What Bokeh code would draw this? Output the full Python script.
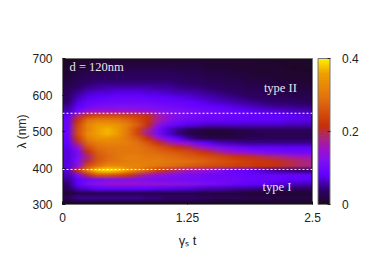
import base64, struct, zlib
import numpy as np
from bokeh.plotting import figure
from bokeh.models import LinearColorMapper, ColorBar, FixedTicker, Label, Span
from bokeh.embed import file_html
from bokeh.resources import INLINE

x_ticks = [0, 1.25, 2.5]
x_tick_labels = {0: "0", 1.25: "1.25", 2.5: "2.5"}
y_ticks = [300, 400, 500, 600, 700]
cb_ticks = [0, 0.2, 0.4]
cb_tick_labels = {0: "0", 0.2: "0.2", 0.4: "0.4"}
type_lines = [550, 396]

# values in hundredths, columns t = 0.05, 0.15 ... 2.45
w693 = [.5,1,1,1,1,1,1,1,1,1,1,1,1,1,1,1,1,1,1,1,.5,.5,.5,.5,.5]
w681 = [.5,1,1,1.5,1.5,1.5,1.5,1.5,1.5,1.5,1.5,1.5,1.5,1.5,1,1,1,1,1,1,1,1,.5,.5,.5]
w668 = [1,1.5,2,2,2.5,2.5,2.5,2.5,2.5,2.5,2.5,2,2,2,1.5,1.5,1.5,1,1,1,1,1,1,.5,.5]
w656 = [1,2,2.5,3,3,3,3,3,3,3,3,3,2.5,2.5,2,2,1.5,1.5,1.5,1,1,1,1,1,1]
w643 = [1.5,2.5,3,3.5,3.5,3.5,3.5,3.5,3.5,3.5,3.5,3.5,3,3,2.5,2.5,2,2,1.5,1.5,1.5,1,1,1,1]
w631 = [2,3,4,4.5,4.5,4.5,4.5,4.5,4.5,4.5,4.5,4,4,3.5,3,3,2.5,2.5,2,2,2,1.5,1.5,1.5,1]
w618 = [2.5,4,5,5.5,6,6,6,6,6,5.5,5.5,5,4.5,4.5,4,3.5,3,3,2.5,2.5,2,2,2,1.5,1.5]
w606 = [3,5,6.5,7,7,7.5,7.5,7.5,7,7,6.5,6,6,5.5,5,4.5,4,3.5,3,3,2.5,2.5,2,2,2]
w593 = [3.5,6,7.5,8,8.5,9,9,9,8.5,8,8,7.5,7,6.5,6,5.5,5,4.5,4,3.5,3.5,3,3,2.5,2.5]
w581 = [4,7,9,9.5,10,10,10,10,10,9.5,9,9,8.5,8,7,6.5,6,5.5,5,4.5,4,4,3.5,3.5,3]
w568 = [5,8,10,11,11.5,12,12,12,11.5,11,10.5,10,9.5,9,8.5,8,7.5,7,6.5,6,5.5,5,5,4.5,4.5]
w556 = [6,10,14,15,15,15,15,14.5,14,13,12,11.5,11,10.5,10,9.5,9,8.5,8,7.5,7,7,6.5,6.5,6]
w543 = [8,18,23,25,25,25,24,23,21,17,14,12,11,10.5,10,10,9.5,9,9,8.5,8.5,8,8,7.5,7.5]
w531 = [9,22,29,31,31,30,28,25,22,17,13,11,10,9.5,9,9,8.5,8.5,8,8,8,8,7.5,7.5,7]
w518 = [9,24,32,35,35,34,31,27,21,14,10,9,7.5,7,6.5,6.5,6.5,6.5,6.5,6.5,6.5,6.5,6,6,6]
w506 = [9,25,32,36,37,35,30,24,18,11,7,5,3.5,2.5,2,2,2.5,3,3,3.5,3.5,3.5,3.5,3.5,3.5]
w493 = [9,25,33,36,37,35,30,24,17,11,7,4.5,2.5,1.5,1,1,1,1.5,2,2,2.5,2.5,2.5,2.5,2.5]
w481 = [8.5,23,31,34,34,33,30,27,22,16,11,8,5.5,4,3,2.5,2.5,2.5,3,3,3,3,3,3,3]
w468 = [8,19,28,31,32,32,31,29,26,22,18,15,13,10,8,6.5,6,5.5,5,5,5,5,5,5,5]
w456 = [7.5,14,25,29,30,30,30,30,28,26,24,22,20,17,14,12,10.5,9.5,9,8.5,8.5,8.5,8,8,8]
w443 = [7,11,21,27,29,30,30,30,29,28,27,26,25,23,21,18.5,16,14.5,13,12,11,10.5,10,10,10]
w431 = [7,11,18,26,28,30,31,31,30,30,29,28,27,26,25,24,23,22,21,20,19,18,17,16,15.5]
w418 = [7,12,20,26,29,30,31,31,31,31,30,29.5,29,28,27,26,25,24,23,22.5,22,21,20,19,18]
w406 = [7,13,25,29,33,33,32,32,31,30,29,28,27,26,25,24.5,24,23,23,22,22,21,20,19,18]
w393 = [7,22,32,38,39,38,35,31,27,23,20,18,16,15,14,12,10,9,8,7,6,5,4.5,4,4]
w381 = [6,11,20,26,26,25,23,19,16,14,13,12,11,11,10,10,9.5,9.5,9,9,9,9,9,9,9]
w368 = [5,8,10,11,12,12,12,12,11.5,11,11,11,10.5,10.5,10,10,10,10,9,9,9,9,8,8,8]
w356 = [4,8,11,13,14,14.5,14.5,14.5,14,14,13.5,13,12.5,12,11,10.5,10,9,8.5,8,7.5,7,6.5,6,6]
w343 = [3,6,7,8,8,8,8,8,8,7.5,7.5,7,7,6.5,6,6,5.5,5,5,4.5,4,4,4,3.5,3.5]
w331 = [1,2,2,2,2,2,2,2,2,2,2,2,2,2,1.5,1.5,1.5,1.5,1,1,1,1,1,1,1]
w318 = [3,5,5,5,5,5,5,5,4.5,4.5,4,4,4,3.5,3.5,3,3,3,2.5,2.5,2.5,2,2,2,2]
w306 = [.5,1,1,1,1,1,1,1,1,1,1,1,1,1,1,.5,.5,.5,.5,.5,.5,.5,.5,.5,.5]

rows_top_down = [w693,w681,w668,w656,w643,w631,w618,w606,w593,w581,w568,w556,w543,w531,w518,w506,
                 w493,w481,w468,w456,w443,w431,w418,w406,w393,w381,w368,w356,w343,w331,w318,w306]
grid = np.array(rows_top_down, dtype=float) / 100.0

stops = [(0.0,(28,8,32)),(0.1,(48,0,110)),(0.2,(96,0,255)),(0.3,(128,16,240)),(0.38,(160,16,200)),
         (0.46,(170,40,120)),(0.54,(200,48,8)),(0.72,(224,110,16)),(0.9,(240,160,0)),(1.0,(255,240,0))]
rgb = []
for i in range(256):
    f = i / 255
    for (a, ca), (b, cb) in zip(stops, stops[1:]):
        if a <= f <= b:
            m = (f - a) / (b - a)
            rgb.append(tuple(int(round(u + (v - u) * m)) for u, v in zip(ca, cb)))
            break
palette = ["#%02x%02x%02x" % c for c in rgb]

# the table's cells as a PNG, one image pixel per cell; the browser shades between them
low, high = 0.0, 0.4
idx = np.clip(((grid - low) / (high - low) * 255).round().astype(int), 0, 255)
pixels = np.array(rgb, dtype=np.uint8)[idx]
raw = b"".join(b"\x00" + row.tobytes() for row in pixels)
def chunk(tag, data):
    return struct.pack(">I", len(data)) + tag + data + struct.pack(">I", zlib.crc32(tag + data))
png = (b"\x89PNG\r\n\x1a\n"
       + chunk(b"IHDR", struct.pack(">IIBBBBB", pixels.shape[1], pixels.shape[0], 8, 2, 0, 0, 0))
       + chunk(b"IDAT", zlib.compress(raw)) + chunk(b"IEND", b""))
url = "data:image/png;base64," + base64.b64encode(png).decode()

p = figure(width=366, height=250, x_range=(0, 2.5), y_range=(300, 700), output_backend="svg",
           toolbar_location=None, min_border_left=62, min_border_top=58, min_border_bottom=46, min_border_right=54,
           background_fill_color="#1c0820", border_fill_color="white")
mapper = LinearColorMapper(palette=palette, low=low, high=high)
p.image_url(url=[url], x=0, y=700, w=2.5, h=400, anchor="top_left")
p.grid.visible = False
p.outline_line_color = "#777777"

for ax, ticks in ((p.xaxis, x_ticks), (p.yaxis, y_ticks)):
    ax.ticker = FixedTicker(ticks=ticks)
    ax.major_tick_in = 3
    ax.major_tick_out = 0
    ax.minor_tick_line_color = None
    ax.axis_line_color = None
    ax.major_tick_line_color = "#111111"
    ax.major_label_text_font = "Liberation Sans"
    ax.major_label_text_font_size = "12px"
    ax.major_label_text_color = "#222222"
    ax.axis_label_text_font = "Liberation Sans"
    ax.axis_label_text_font_size = "12px"
    ax.axis_label_text_font_style = "normal"
    ax.axis_label_text_color = "#222222"
p.xaxis.major_label_overrides = x_tick_labels
p.xaxis.axis_label = "γₛ t"
p.xaxis.axis_label_text_font_size = "13px"
p.yaxis.axis_label = "λ (nm)"
p.xaxis.major_label_standoff = 8
p.yaxis.major_label_standoff = 10
p.xaxis.axis_label_standoff = 8
p.yaxis.axis_label_standoff = 0

for w in type_lines:
    p.add_layout(Span(location=w, dimension="width", line_color="white", line_width=1, line_dash="2 2"))

for txt, tx, ty in (("d = 120nm", 0.07, 678), ("type II", 2.014, 618), ("type I", 2.0, 349)):
    p.add_layout(Label(x=tx, y=ty, text=txt, text_color="#e8e8e8", text_font="Liberation Serif",
                       text_font_size="12.5px", text_baseline="middle"))

cbar = ColorBar(color_mapper=mapper, ticker=FixedTicker(ticks=cb_ticks), major_label_overrides=cb_tick_labels,
                width=12, height=146, padding=0, margin=0, location=(255.5, 0),
                major_tick_in=3, major_tick_line_color="#222222", minor_tick_line_color=None,
                bar_line_color="#777777", label_standoff=12,
                major_label_text_font="Liberation Sans", major_label_text_font_size="12px",
                major_label_text_color="#222222")
p.add_layout(cbar)

open("out.html", "w").write(file_html(p, INLINE))
